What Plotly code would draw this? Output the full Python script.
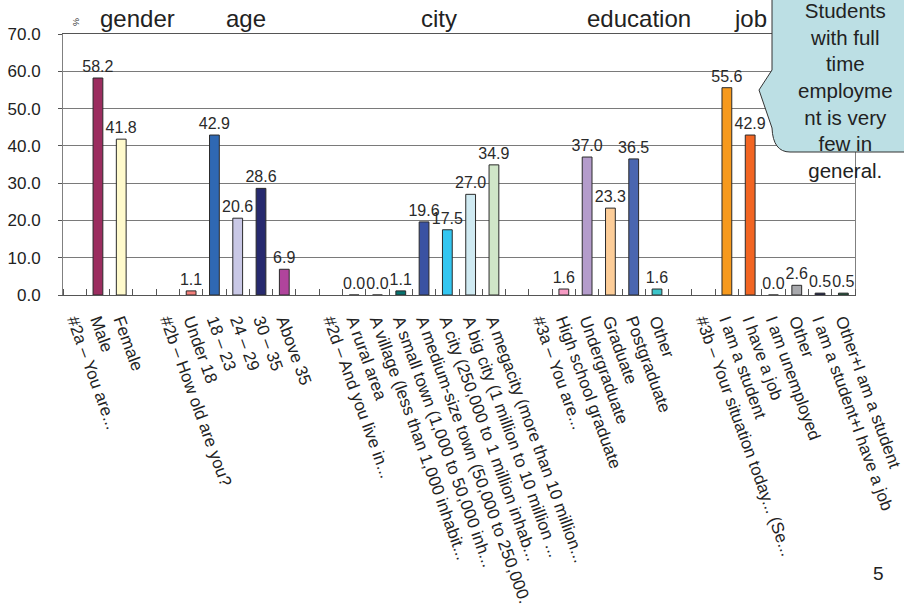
import plotly.graph_objects as go

# ---- data -------------------------------------------------------------
categories = [
    "#2a – You are...", "Male", "Female", "",
    "#2b – How old are you?", "Under 18", "18 – 23", "24 – 29", "30 – 35", "Above 35", "",
    "#2d – And you live in...", "A rural area", "A village (less than 1,000 inhabit...",
    "A small town (1,000 to 50,000 inh...", "A medium-size town (50,000 to 250,000...",
    "A city (250,000 to 1 million inhab...", "A big city (1 million to 10 million ...",
    "A megacity (more than 10 million...", "",
    "#3a – You are...", "High school graduate", "Undergraduate", "Graduate", "Postgraduate", "Other", "",
    "#3b – Your situation today... (Se...", "I am a student", "I have a job", "I am unemployed", "Other",
    "I am a student+I have a job", "Other+I am a student",
]

values = [
    None, 58.2, 41.8, None,
    None, 1.1, 42.9, 20.6, 28.6, 6.9, None,
    None, 0.0, 0.0, 1.1, 19.6, 17.5, 27.0, 34.9, None,
    None, 1.6, 37.0, 23.3, 36.5, 1.6, None,
    None, 55.6, 42.9, 0.0, 2.6, 0.5, 0.5,
]

bar_colors = [
    "#ffffff", "#9b2d5f", "#fffacc", "#ffffff",
    "#ffffff", "#f47f7a", "#2f68b3", "#c9c8e6", "#272a6e", "#b0449c", "#ffffff",
    "#ffffff", "#ffffff", "#ffffff", "#06726f", "#3a52a2", "#33c6f1", "#cfeaf2", "#d0e6c8", "#ffffff",
    "#ffffff", "#f59bc3", "#b49ccb", "#fdcd98", "#4a66b0", "#3cc4c9", "#ffffff",
    "#ffffff", "#f6991d", "#f26522", "#ffffff", "#a8a9ad", "#1e2150", "#1d5e3f",
]

groups = ["gender", "age", "city", "education", "job"]
group_x_px = [137, 246, 439, 639, 750]

y_ticks = [0, 10, 20, 30, 40, 50, 60, 70]

callout_text = "Students<br>with full<br>time<br>employme<br>nt is very<br>few in<br>general."

# ---- geometry helpers (plot area in pixels) -----------------------------
W, H = 904, 604
L, R, T, B = 63, 855, 34, 295


def px(x):
    return (x - L) / (R - L)


def py(y):
    return (B - y) / (B - T)


FONT = "Liberation Sans, Arial, sans-serif"
positions = list(range(len(categories)))
bar_text = ["" if v is None else f"{v:.1f}" for v in values]

fig = go.Figure()
fig.add_trace(go.Bar(
    x=positions,
    y=values,
    width=0.42,
    marker=dict(color=bar_colors, line=dict(color="#2a2a2a", width=1)),
    text=bar_text,
    textposition="outside",
    textangle=0,
    constraintext="none",
    cliponaxis=False,
    textfont=dict(family=FONT, size=16, color="#2a2a2a"),
    hoverinfo="skip",
))

annotations = []
for name, gx in zip(groups, group_x_px):
    annotations.append(dict(
        x=px(gx), y=py(19), xref="paper", yref="paper",
        text=name, showarrow=False, xanchor="center", yanchor="middle",
        font=dict(family=FONT, size=24, color="#222222"),
    ))

# unit mark beside the axis top
annotations.append(dict(
    x=px(76), y=py(22), xref="paper", yref="paper", text="%",
    showarrow=False, textangle=90, xanchor="center", yanchor="middle",
    font=dict(family=FONT, size=9, color="#333333"),
))

# callout text
annotations.append(dict(
    x=px(845), y=py(90), xref="paper", yref="paper", text=callout_text,
    showarrow=False, xanchor="center", yanchor="middle", align="center",
    font=dict(family=FONT, size=20.5, color="#222222"),
))

# page number
annotations.append(dict(
    x=px(878), y=py(574), xref="paper", yref="paper", text="5",
    showarrow=False, xanchor="center", yanchor="middle",
    font=dict(family=FONT, size=19, color="#222222"),
))

# speech-bubble outline of the callout
pts = [
    (772, -10), (772, 70), (759, 90), (772, 128),
]
path = "M {} {}".format(px(pts[0][0]), py(pts[0][1]))
for x, y in pts[1:]:
    path += " L {} {}".format(px(x), py(y))
path += " Q {} {} {} {}".format(px(773), py(152), px(790), py(152))
path += " L {} {} L {} {} Z".format(px(920), py(152), px(920), py(-10))

fig.update_layout(
    width=W, height=H,
    margin=dict(l=L, r=W - R, t=T, b=H - B, autoexpand=False),
    paper_bgcolor="white", plot_bgcolor="white",
    showlegend=False,
    bargap=0.5,
    font=dict(family=FONT, color="#222222"),
    xaxis=dict(
        range=[-0.5, len(categories) - 0.5],
        tickmode="array", tickvals=positions, ticktext=categories,
        tickangle=70, ticks="", automargin=False, ticklabelstandoff=8,
        ticklabeloverflow="allow",
        tickfont=dict(family=FONT, size=17, color="#222222"),
        showline=True, linecolor="#555555", linewidth=1, mirror=True,
        showgrid=False, zeroline=False,
        minor=dict(
            tickmode="array",
            tickvals=[k + 0.5 for k in range(-1, len(categories))],
            ticks="inside", ticklen=6, tickcolor="#555555", showgrid=False,
        ),
    ),
    yaxis=dict(
        range=[0, 70], tickmode="array", tickvals=y_ticks, tickformat=".1f",
        ticks="outside", ticklen=4, tickcolor="#555555", ticklabelstandoff=14,
        tickfont=dict(family=FONT, size=17, color="#222222"),
        showline=True, linecolor="#808080", linewidth=1, mirror=True,
        showgrid=True, gridcolor="#7a7a7a", gridwidth=1,
        zeroline=False, automargin=False,
    ),
    annotations=annotations,
    shapes=[dict(
        type="path", xref="paper", yref="paper", path=path,
        fillcolor="#bcdfe4", line=dict(color="#333333", width=1), layer="above",
    )],
)

fig.write_html("out.html")
